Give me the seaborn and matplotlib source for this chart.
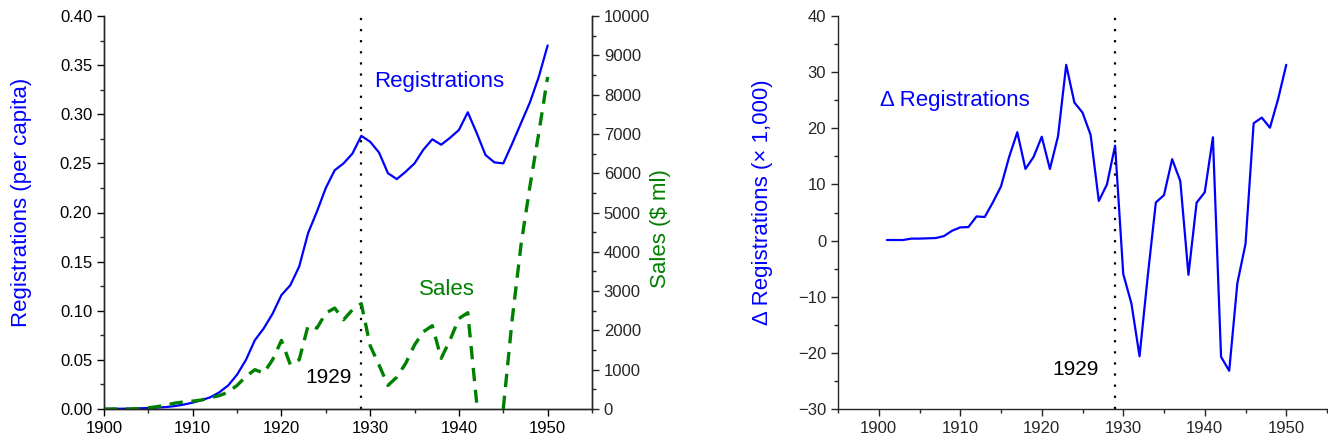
import numpy as np
import pandas as pd
import matplotlib
matplotlib.use("Agg")
import matplotlib.pyplot as plt
from matplotlib.ticker import MultipleLocator
import seaborn as sns

# ---------------- data ----------------
years = list(range(1900, 1951))

registrations = [
    0.000, 0.0002, 0.0003, 0.0004, 0.0007, 0.001, 0.0014, 0.002, 0.003, 0.0045,   # 1900-1909
    0.0065, 0.009, 0.012, 0.017, 0.024, 0.035, 0.050, 0.070, 0.082, 0.097,        # 1910-1919
    0.116, 0.126, 0.145, 0.179, 0.201, 0.225, 0.243, 0.250, 0.260, 0.278,         # 1920-1929
    0.272, 0.261, 0.240, 0.234, 0.2415, 0.250, 0.264, 0.2745, 0.269, 0.276,       # 1930-1939
    0.284, 0.302, 0.281, 0.2585, 0.251, 0.250, 0.270, 0.291, 0.312, 0.338,        # 1940-1949
    0.370,                                                                        # 1950
]

sales = [
    0, 0, 0, 0, 10, 30, 60, 100, 150, 180,                    # 1900-1909
    200, 230, 290, 340, 430, 600, 830, 1000, 915, 1254,       # 1910-1919
    1746, 1127, 1254, 2119, 2059, 2440, 2568, 2271, 2525, 2680,  # 1920-1929
    1610, 1120, 600, 810, 1160, 1630, 1967, 2120, 1290, 1756,    # 1930-1939
    2300, 2450, 160, np.nan, np.nan, 0, 2271, 4178, 5661, 7017,  # 1940-1949
    8450,                                                        # 1950
]

delta_years = list(range(1901, 1951))
delta_reg = [
    0.1, 0.1, 0.1, 0.35, 0.35, 0.4, 0.45, 0.8, 1.75,              # 1901-1909
    2.35, 2.4, 4.3, 4.2, 6.8, 9.65, 14.9, 19.3, 12.75, 14.9,      # 1910-1919
    18.5, 12.75, 18.6, 31.3, 24.6, 22.8, 18.8, 7.05, 10.0, 16.9,  # 1920-1929
    -5.95, -11.2, -20.6, -6.4, 6.8, 8.1, 14.5, 10.6, -6.1, 6.75,  # 1930-1939
    8.6, 18.4, -20.7, -23.2, -7.6, -0.6, 20.9, 21.9, 20.1, 25.2,  # 1940-1949
    31.3,                                                         # 1950
]

crash_year = 1929

left_df = pd.DataFrame({"year": years, "registrations": registrations, "sales": sales})
# split the sales series into runs separated by missing years so the gap is kept
left_df["segment"] = left_df["sales"].isna().cumsum()
sales_df = left_df.dropna(subset=["sales"])
right_df = pd.DataFrame({"year": delta_years, "delta": delta_reg})

# ---------------- style ----------------
sns.set_style("ticks")
plt.rcParams["font.family"] = ["Liberation Sans", "DejaVu Sans"]
plt.rcParams["axes.linewidth"] = 1.0
for k in ["xtick.major.width", "ytick.major.width", "xtick.minor.width", "ytick.minor.width"]:
    plt.rcParams[k] = 1.0
plt.rcParams["xtick.major.size"] = 5
plt.rcParams["ytick.major.size"] = 5
plt.rcParams["xtick.minor.size"] = 3
plt.rcParams["ytick.minor.size"] = 3
plt.rcParams["xtick.direction"] = "out"
plt.rcParams["ytick.direction"] = "out"

BLUE = "#0000FF"
GREEN = "#008000"
TICK_FS = 12
LABEL_FS = 16

fig = plt.figure(figsize=(13.28, 4.43), dpi=100)
ax1 = fig.add_axes([104 / 1328, 1 - 409 / 443, (592 - 104) / 1328, (409 - 16) / 443])
ax3 = fig.add_axes([838 / 1328, 1 - 409 / 443, (1327 - 838) / 1328, (409 - 16) / 443])

# ---------------- left panel ----------------
sns.lineplot(data=left_df, x="year", y="registrations", ax=ax1, color=BLUE, linewidth=1.6)
ax1.set_xlim(1900, 1955)
ax1.set_ylim(0, 0.40)
ax1.xaxis.set_major_locator(MultipleLocator(10))
ax1.xaxis.set_minor_locator(MultipleLocator(5))
ax1.yaxis.set_major_locator(MultipleLocator(0.05))
ax1.yaxis.set_minor_locator(MultipleLocator(0.025))
ax1.yaxis.set_major_formatter(matplotlib.ticker.FormatStrFormatter("%.2f"))
ax1.set_xlabel("")
ax1.set_ylabel("Registrations (per capita)", color=BLUE, fontsize=LABEL_FS)
ax1.yaxis.set_label_coords(-0.1475, 0.527)
ax1.tick_params(labelsize=TICK_FS, colors="black")
ax1.spines["top"].set_visible(False)
ax1.axvline(crash_year, color="black", linestyle=(0, (1, 4)), linewidth=1.6)

ax2 = ax1.twinx()
sns.lineplot(data=sales_df, x="year", y="sales", units="segment", estimator=None,
             ax=ax2, color=GREEN, linewidth=2.4)
for ln in ax2.lines:
    ln.set_dashes([4, 2.6])
ax2.set_ylim(0, 10000)
ax2.yaxis.set_major_locator(MultipleLocator(1000))
ax2.yaxis.set_minor_locator(MultipleLocator(500))
ax2.set_ylabel("Sales (\\$ ml)", color=GREEN, fontsize=LABEL_FS)
ax2.yaxis.set_label_coords(1.119, 0.46)
ax2.tick_params(labelsize=TICK_FS)
ax2.spines["top"].set_visible(False)
ax2.set_xlim(1900, 1955)

ax1.text(1930.5, 0.333, "Registrations", color=BLUE, fontsize=LABEL_FS, va="center", ha="left")
ax2.text(1938.7, 3050, "Sales", color=GREEN, fontsize=LABEL_FS, va="center", ha="center")
ax1.text(1927.9, 0.032, "1929", color="black", fontsize=15, va="center", ha="right")

# ---------------- right panel ----------------
sns.lineplot(data=right_df, x="year", y="delta", ax=ax3, color=BLUE, linewidth=1.6)
ax3.set_xlim(1895, 1955)
ax3.set_ylim(-30, 40)
ax3.xaxis.set_major_locator(MultipleLocator(10))
ax3.xaxis.set_minor_locator(MultipleLocator(5))
ax3.yaxis.set_major_locator(MultipleLocator(10))
ax3.yaxis.set_minor_locator(MultipleLocator(5))
ax3.set_xlabel("")
ax3.set_ylabel("\u0394 Registrations (\u00d7 1,000)", color=BLUE, fontsize=LABEL_FS)
ax3.yaxis.set_label_coords(-0.133, 0.527)
ax3.tick_params(labelsize=TICK_FS)
ax3.spines["top"].set_visible(False)
ax3.spines["right"].set_visible(False)
ax3.axvline(crash_year, color="black", linestyle=(0, (1, 4)), linewidth=1.6)
ax3.text(1900.2, 25.0, "\u0394 Registrations", color=BLUE, fontsize=LABEL_FS, va="center", ha="left")
ax3.text(1927.0, -23.0, "1929", color="black", fontsize=15, va="center", ha="right")

fig.savefig("out.png", dpi=100)
